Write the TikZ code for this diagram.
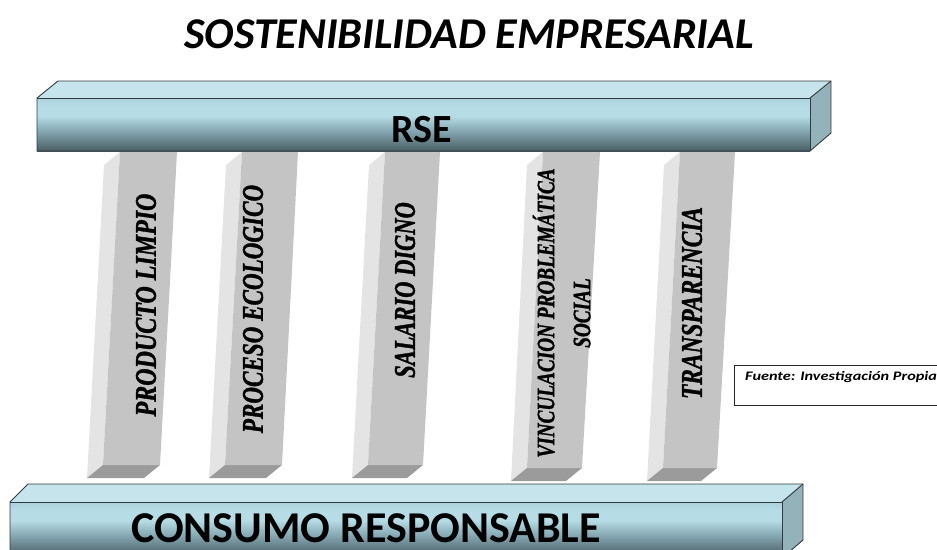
\documentclass[tikz,border=0pt]{standalone}
\usepackage{fontspec}
\setmainfont{Liberation Serif}
\newfontfamily\pillarfont[BoldItalicFeatures={FakeBold=1.4}]{Liberation Serif}
\newfontfamily\carlito{Carlito}
\usetikzlibrary{calc}
\definecolor{barT}{HTML}{C6E4EC}
\definecolor{barR}{HTML}{93B2BA}
\definecolor{barD}{HTML}{4A5E65}
\definecolor{barM}{HTML}{88ABB5}
\definecolor{barL}{HTML}{B6DCE6}
\definecolor{barTop}{HTML}{A9D2DE}
\definecolor{barEdge}{HTML}{333B3E}
\definecolor{pfront}{HTML}{C4C4C4}
\definecolor{pside}{HTML}{E4E4E4}
\definecolor{pbottom}{HTML}{9B9B9B}
\pgfdeclareverticalshading{barfront}{100bp}{color(0bp)=(barD); color(25bp)=(barD); color(45bp)=(barM); color(58bp)=(barL); color(68bp)=(barL); color(75bp)=(barTop); color(100bp)=(barTop)}
\newcommand\pillarbox[6]{%
  \fill[pside] (#1,#5) -- (#3,#6) -- (#3-16,#6+13) -- (#1-16,#5+13) -- cycle;
  \fill[pbottom] (#3,#6) -- (#4,#6) -- (#4-16,#6+13) -- (#3-16,#6+13) -- cycle;
  \fill[pfront] (#1,#5) -- (#2,#5) -- (#4,#6) -- (#3,#6) -- cycle;
}
\begin{document}
\begin{tikzpicture}[x=1pt,y=-1pt,
  ptext/.style={rotate=90, inner sep=0pt, text=black, font=\pillarfont\fontsize{30}{32}\selectfont\bfseries\itshape},
  bartext/.style={inner sep=0pt, font=\carlito\bfseries},
  baredge/.style={draw=barEdge, line width=0.9pt, line join=round}]
\useasboundingbox (0,0) rectangle (937,549);
\clip (0,0) rectangle (937,549);
% title
\node[inner sep=0pt, font=\carlito\fontsize{44}{46}\selectfont\bfseries\itshape] (title) at (469,34) {SOSTENIBILIDAD EMPRESARIAL};
% pillars
\pillarbox{120}{177}{103}{160}{152}{465}
\pillarbox{242}{298}{225}{282}{152}{465}
\pillarbox{385}{440}{368}{423}{152}{465}
\pillarbox{543}{600}{527}{582}{152}{468}
\pillarbox{680}{735}{663}{717}{152}{468}
\node[ptext] (p1) at (146,305) {\scalebox{0.8}[1]{PRODUCTO LIMPIO}};
\node[ptext] (p2) at (253,309) {\scalebox{0.77}[1]{PROCESO ECOLOGICO}};
\node[ptext] (p3) at (405,290) {\scalebox{0.75}[1]{SALARIO DIGNO}};
\node[ptext, font=\pillarfont\fontsize{25}{36}\selectfont\bfseries\itshape] (p4) at (565,313) {\scalebox{0.77}[1]{\begin{tabular}{@{}c@{}}VINCULACION PROBLEMÁTICA\\SOCIAL\end{tabular}}};
\node[ptext] (p5) at (692,303) {\scalebox{0.78}[1]{TRANSPARENCIA}};
% top bar
\fill[barT] (37,98) -- (58,81) -- (831,81) -- (810,98) -- cycle;
\fill[barR] (810,98) -- (831,81) -- (831,133) -- (810,151) -- cycle;
\shade[shading=barfront] (37,98) rectangle (810,151);
\draw[baredge] (37,98) -- (58,81) -- (831,81) -- (831,133) -- (810,151) -- (37,151) -- cycle;
\draw[baredge] (37,98) -- (810,98) -- (810,151);
\draw[baredge] (810,98) -- (831,81);
\node[bartext, font=\carlito\fontsize{40}{42}\selectfont\bfseries] (rse) at (422,130) {RSE};
% bottom bar
\fill[barT] (10,502) -- (28,484) -- (803,484) -- (782,502) -- cycle;
\fill[barR] (782,502) -- (803,484) -- (803,540) -- (782,558) -- cycle;
\shade[shading=barfront] (10,502) rectangle (782,556);
\draw[baredge] (10,502) -- (28,484) -- (803,484) -- (803,540) -- (782,558) -- (10,558) -- cycle;
\draw[baredge] (10,502) -- (782,502) -- (782,558);
\draw[baredge] (782,502) -- (803,484);
\node[bartext, font=\carlito\fontsize{44}{46}\selectfont\bfseries] (cr) at (366,528) {CONSUMO RESPONSABLE};
% source box
\draw[line width=0.9pt, draw=black!85] (950,365) -- (734,365) -- (734,405) -- (950,405);
\node[anchor=west, inner sep=0pt, font=\carlito\fontsize{13}{14}\selectfont\bfseries\itshape] (src) at (745,377) {\scalebox{1.25}[1]{Fuente: Investigación Propia}};
\end{tikzpicture}
\end{document}
